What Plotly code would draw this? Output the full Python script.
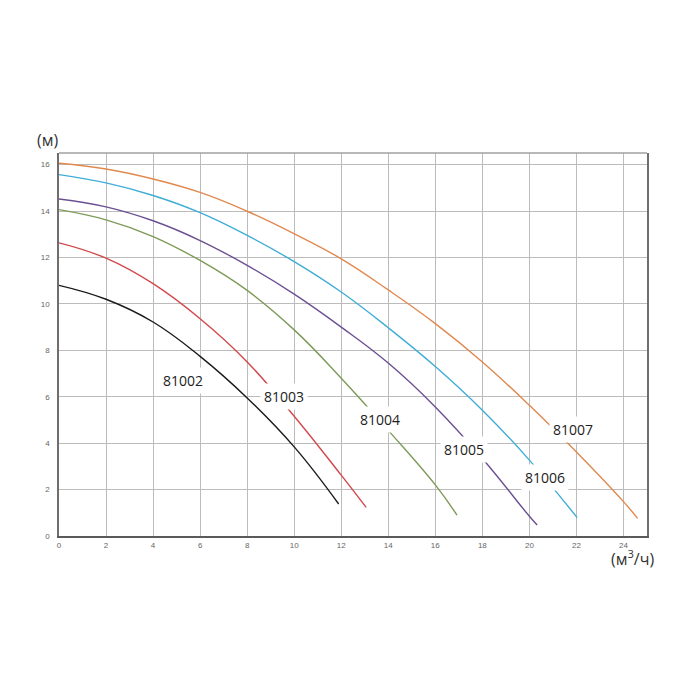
import plotly.graph_objects as go

# ---- data (flow m3/h, head m) ----
q_81002 = [0, 2, 4, 6, 8, 10, 11.89]
h_81002 = [10.8, 10.2, 9.22, 7.74, 5.95, 3.84, 1.38]

q_81003 = [0, 2, 4, 6, 8, 10, 12, 13.06]
h_81003 = [12.63, 11.97, 10.87, 9.36, 7.5, 5.16, 2.62, 1.23]

q_81004 = [0, 2, 4, 6, 8, 10, 12, 14, 16, 16.92]
h_81004 = [14.06, 13.62, 12.9, 11.87, 10.58, 8.88, 6.8, 4.55, 2.2, 0.9]

q_81005 = [0, 2, 4, 6, 8, 10, 12, 14, 16, 18, 20, 20.33]
h_81005 = [14.52, 14.18, 13.58, 12.73, 11.66, 10.42, 9.0, 7.45, 5.56, 3.34, 0.85, 0.47]

q_81006 = [0, 2, 4, 6, 8, 10, 12, 14, 16, 18, 20, 22.03]
h_81006 = [15.57, 15.21, 14.67, 13.93, 12.95, 11.82, 10.51, 8.97, 7.3, 5.42, 3.27, 0.79]

q_81007 = [0, 2, 4, 6, 8, 10, 12, 14, 16, 18, 20, 22, 24, 24.6]
h_81007 = [16.06, 15.81, 15.38, 14.8, 13.99, 13.02, 11.94, 10.6, 9.15, 7.5, 5.63, 3.62, 1.48, 0.76]

models = ["81002", "81003", "81004", "81005", "81006", "81007"]
label_q = [5.28, 9.55, 13.63, 17.2, 20.68, 21.86]
label_h = [6.68, 5.99, 5.03, 3.73, 2.51, 4.6]

x_ticks = list(range(0, 25, 2))
y_ticks = list(range(0, 17, 2))

colors = ["#1a1a1a", "#d2474a", "#7d9a58", "#6b4f93", "#3fadd6", "#e0894f"]
series = [(q_81002, h_81002), (q_81003, h_81003), (q_81004, h_81004),
          (q_81005, h_81005), (q_81006, h_81006), (q_81007, h_81007)]

W, H = 700, 700
ML, MR, MT, MB = 51, 61, 145, 172
PW, PH = W - ML - MR, H - MT - MB


def px_to_paper(px, py):
    return (px - ML) / PW, (H - MB - py) / PH


fig = go.Figure()
for (q, h), c, name in zip(series, colors, models):
    fig.add_trace(go.Scatter(x=q, y=h, mode="lines", name=name,
                             line=dict(color=c, width=1.4, shape="spline", smoothing=1.2),
                             showlegend=False, hoverinfo="skip"))

for name, lx, ly in zip(models, label_q, label_h):
    fig.add_annotation(x=lx, y=ly, xref="x", yref="y", text=name, showarrow=False,
                       font=dict(family="Open Sans, Arial", size=14, color="#222"),
                       bgcolor="white", borderpad=3)

ax, ay = px_to_paper(39, 132)
fig.add_annotation(x=ax, y=ay, xref="paper", yref="paper", text="(м)", showarrow=False,
                   xanchor="center", yanchor="middle",
                   font=dict(family="Open Sans, Arial", size=16, color="#333"))
bx, by = px_to_paper(624, 550)
fig.add_annotation(x=bx, y=by, xref="paper", yref="paper", text="(м<sup>3</sup>/ч)", showarrow=False,
                   xanchor="center", yanchor="middle",
                   font=dict(family="Open Sans, Arial", size=16, color="#333"))

# top border
fig.add_shape(type="line", xref="paper", yref="paper", x0=0, x1=1, y0=1, y1=1,
              line=dict(color="#a0a0a0", width=1.5))

fig.update_layout(
    width=W, height=H,
    margin=dict(l=ML, r=MR, t=MT, b=MB),
    plot_bgcolor="white", paper_bgcolor="white",
    xaxis=dict(range=[0, 25], tickvals=x_ticks, ticktext=[str(v) for v in x_ticks],
               showgrid=True, gridcolor="#bcbcbc", gridwidth=1.2, zeroline=False,
               showline=True, linecolor="#5a5a5a", linewidth=2,
               tickfont=dict(family="Arial", size=8, color="#666"), ticks=""),
    yaxis=dict(range=[0, 16.5], tickvals=y_ticks, ticktext=[str(v) for v in y_ticks],
               showgrid=True, gridcolor="#bcbcbc", gridwidth=1.2, zeroline=False,
               showline=True, linecolor="#6e6e6e", linewidth=1.5, mirror=True,
               ticklabelstandoff=6,
               tickfont=dict(family="Arial", size=8, color="#666"), ticks=""),
)

fig.write_html("out.html")
